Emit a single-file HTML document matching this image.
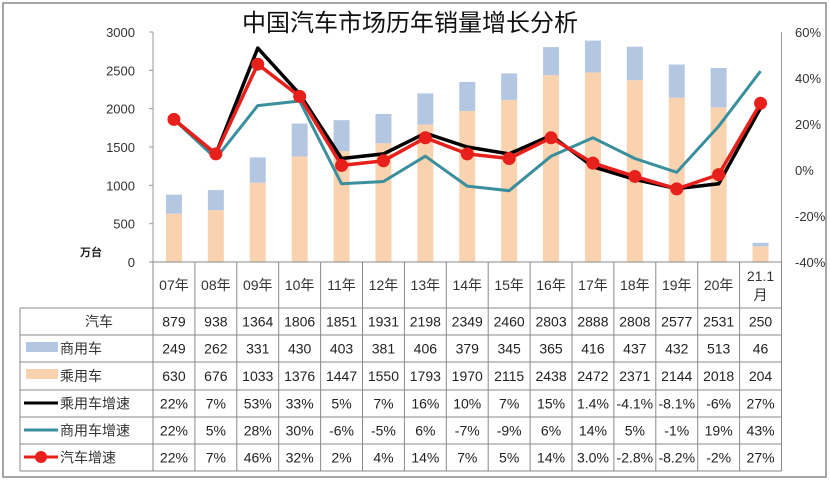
<!DOCTYPE html>
<html><head><meta charset="utf-8"><style>
body{margin:0;background:#fff;}
svg text{font-family:"Liberation Sans","Noto Sans CJK SC",sans-serif;}
</style></head><body>
<svg id="c" width="830" height="482" xmlns="http://www.w3.org/2000/svg">
<rect x="3" y="3" width="823" height="474" fill="#fff" stroke="#888" stroke-width="1.5"/>
<text x="410" y="31" font-size="24" text-anchor="middle" fill="#111">中国汽车市场历年销量增长分析</text>
<g id="g"></g>
</svg>
<script>
const categories=["07年","08年","09年","10年","11年","12年","13年","14年","15年","16年","17年","18年","19年","20年","21.1月"];
const total=[879,938,1364,1806,1851,1931,2198,2349,2460,2803,2888,2808,2577,2531,250];
const commercial=[249,262,331,430,403,381,406,379,345,365,416,437,432,513,46];
const passenger=[630,676,1033,1376,1447,1550,1793,1970,2115,2438,2472,2371,2144,2018,204];
const passGrowth=[22,7,53,33,5,7,16,10,7,15,1.4,-4.1,-8.1,-6,27];
const commGrowth=[22,5,28,30,-6,-5,6,-7,-9,6,14,5,-1,19,43];
const totalGrowth=[22,7,46,32,2,4,14,7,5,14,3.0,-2.8,-8.2,-2,29];
const passLabels=["22%","7%","53%","33%","5%","7%","16%","10%","7%","15%","1.4%","-4.1%","-8.1%","-6%","27%"];
const commLabels=["22%","5%","28%","30%","-6%","-5%","6%","-7%","-9%","6%","14%","5%","-1%","19%","43%"];
const totalLabels=["22%","7%","46%","32%","2%","4%","14%","7%","5%","14%","3.0%","-2.8%","-8.2%","-2%","27%"];
const leftTicks=[0,500,1000,1500,2000,2500,3000];
const rightTicks=[-40,-20,0,20,40,60];

const NS="http://www.w3.org/2000/svg",g=document.getElementById('g');
const X0=153,CW=41.9,Y0=262,Y1=32;
const xC=i=>X0+CW*(i+0.5);
const yL=v=>Y0-(v/3000)*(Y0-Y1);
const yR=v=>Y0-((v+40)/100)*(Y0-Y1);
function el(t,a,txt){const e=document.createElementNS(NS,t);for(const k in a)e.setAttribute(k,a[k]);if(txt!=null)e.textContent=txt;g.appendChild(e);return e;}
let e=el('line',{x1:X0,y1:Y1,x2:X0,y2:Y0,stroke:'#999'});

e=el('line',{x1:X0+CW*15,y1:Y1,x2:X0+CW*15,y2:Y0,stroke:'#999'});

leftTicks.forEach(v=>{const t=el('text',{x:135,y:yL(v)+5,'font-size':13,'text-anchor':'end',fill:'#333'},v);

const m=el('line',{x1:X0-4,y1:yL(v),x2:X0,y2:yL(v),stroke:'#999'});
});
rightTicks.forEach(v=>{const t=el('text',{x:795,y:yR(v)+5,'font-size':13,fill:'#333'},v+'%');
});
e=el('text',{x:80,y:256,'font-size':11,'font-weight':'bold',fill:'#222'},'万台');

for(let i=0;i<15;i++){
 const bw=16,x=xC(i)-bw/2;
 let b=el('rect',{x:x,y:yL(passenger[i]),width:bw,height:Y0-yL(passenger[i]),fill:'#f9d2b0'});
 
 b=el('rect',{x:x,y:yL(passenger[i]+commercial[i]),width:bw,height:yL(passenger[i])-yL(passenger[i]+commercial[i]),fill:'#b4c7e2'});
 
}
function line(arr,color,w,name){const p=el('polyline',{points:arr.map((v,i)=>xC(i)+','+yR(v)).join(' '),fill:'none',stroke:color,'stroke-width':w,'stroke-linejoin':'round'});
}
line(commGrowth,'#3a8f9c',3,'line-commercial-growth');
line(passGrowth,'#000',3.5,'line-passenger-growth');
line(totalGrowth,'#e8201c',3.5,'line-total-growth');
totalGrowth.forEach((v,i)=>{const c=el('circle',{cx:xC(i),cy:yR(v),r:6.5,fill:'#e8201c'});
});
const rowsY=[262,308,335,362,390,417,444,471];
const L=20,R=X0+CW*15;
for(let k=0;k<=15;k++){const x=X0+CW*k;const l=el('line',{x1:x,y1:262,x2:x,y2:471,stroke:'#888'});
}
el('line',{x1:L,y1:308,x2:L,y2:471,stroke:'#888'});
rowsY.forEach((y,j)=>{const l=el('line',{x1:j<=0?X0:L,y1:y,x2:R,y2:y,stroke:'#888'});
});
categories.forEach((c,i)=>{
 if(c==='21.1月'){const a=el('text',{x:xC(i),y:281,'font-size':14,'text-anchor':'middle',fill:'#333'},'21.1');
 const b=el('text',{x:xC(i),y:300,'font-size':14,'text-anchor':'middle',fill:'#333'},'月');}
 else{const t=el('text',{x:xC(i),y:290,'font-size':14,'text-anchor':'middle',fill:'#333'},c);}
});
const rows=[["汽车",total.map(String)],["商用车",commercial.map(String)],["乘用车",passenger.map(String)],["乘用车增速",passLabels],["商用车增速",commLabels],["汽车增速",totalLabels]];
rows.forEach((r,j)=>{const yc=(rowsY[j+1]+rowsY[j+2])/2+5;
 const lab=el('text',{x:j===0?85:60,y:yc,'font-size':14,fill:'#333'},r[0]);
 
 r[1].forEach((v,i)=>{const t=el('text',{x:xC(i),y:yc,'font-size':14,'text-anchor':'middle',fill:'#222'},v);
 });
});
let k=el('rect',{x:26,y:342,width:32,height:10,fill:'#b4c7e2'});
k=el('rect',{x:26,y:369,width:32,height:10,fill:'#f9d2b0'});
k=el('line',{x1:24,y1:403,x2:58,y2:403,stroke:'#000','stroke-width':3});
k=el('line',{x1:24,y1:430,x2:58,y2:430,stroke:'#3a8f9c','stroke-width':3});
k=el('line',{x1:24,y1:457,x2:58,y2:457,stroke:'#e8201c','stroke-width':3});
k=el('circle',{cx:41,cy:457,r:6,fill:'#e8201c'});
</script>
</body></html>
